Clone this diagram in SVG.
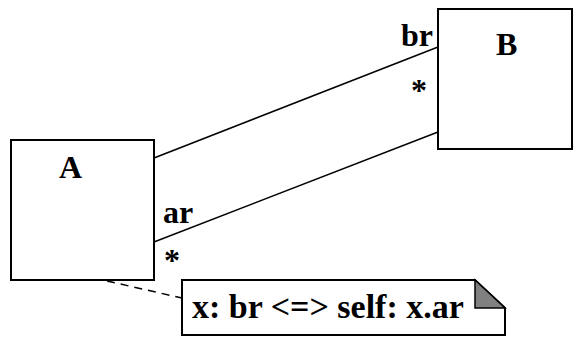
<svg xmlns="http://www.w3.org/2000/svg" width="574" height="337" viewBox="0 0 574 337">
<style>
.box{fill:#fff;stroke:#000;stroke-width:2}
.lbl{font-family:"Liberation Serif","Times New Roman",serif;font-weight:bold;font-size:32px;fill:#000}
.conn{stroke:#000;stroke-width:1.5;fill:none}
</style>
<rect width="574" height="337" fill="#fff"/>
<g id="connectors">
<line class="conn" x1="154" y1="158" x2="438" y2="47"/>
<line class="conn" x1="154" y1="242" x2="438" y2="132"/>
<line class="conn" x1="107" y1="281" x2="182" y2="298" stroke-dasharray="8,6"/>
</g>
<g id="A">
<rect class="box" x="11" y="140" width="143" height="140"/>
<text class="lbl" x="59" y="178">A</text>
</g>
<g id="B">
<rect class="box" x="438" y="9" width="134" height="140"/>
<text class="lbl" x="496" y="55">B</text>
</g>
<g id="labels">
<text class="lbl" x="401" y="46">br</text>
<text class="lbl" x="411" y="101">*</text>
<text class="lbl" x="163" y="223">ar</text>
<text class="lbl" x="164" y="271">*</text>
</g>
<g id="note">
<path class="box" d="M182,280 H475 L505,308 V335 H182 Z"/>
<path d="M475,280 V308 H505 Z" fill="#808080" stroke="#000" stroke-width="1.5" stroke-linejoin="miter"/>
<text class="lbl" x="192" y="318" style="font-size:34px">x: br &lt;=&gt; self: x.ar</text>
</g>
</svg>
